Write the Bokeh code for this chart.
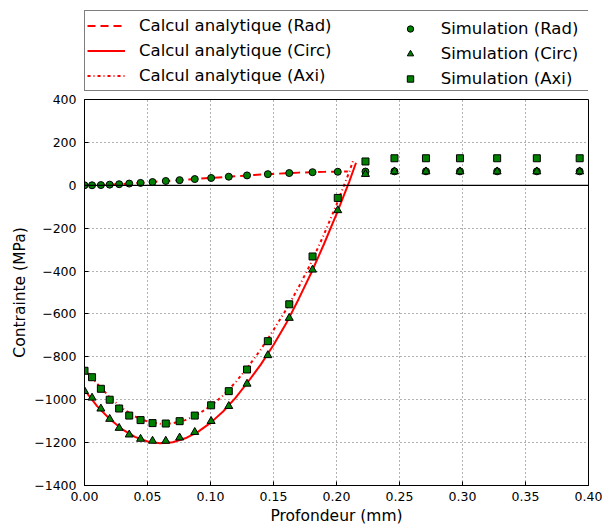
from bokeh.plotting import figure
from bokeh.layouts import column
from bokeh.models import (Legend, LegendItem, Span, SingleIntervalTicker,
                          PrintfTickFormatter, CustomJSTickFormatter, Range1d)
from bokeh.embed import file_html
from bokeh.resources import INLINE

# ---- data ----
depth_sim = [0.0, 0.006, 0.013, 0.020, 0.0275, 0.0355, 0.0445, 0.054, 0.0645,
             0.0755, 0.0875, 0.1005, 0.1145, 0.129, 0.1455, 0.1625, 0.181,
             0.201, 0.223, 0.246, 0.271, 0.298, 0.3275, 0.359, 0.393]
rad_sim = [0, 0, 1, 3, 5, 8, 11, 15, 20, 24, 29, 34, 40, 46, 52, 57, 61, 63,
           64, 65, 65, 65, 65, 65, 65]
circ_sim = [-960, -991, -1042, -1090, -1132, -1163, -1183, -1192, -1192,
            -1177, -1151, -1100, -1030, -926, -793, -619, -394, -117, 52,
            64, 64, 64, 64, 64, 64]
axi_sim = [-865, -895, -949, -1000, -1041, -1074, -1095, -1109, -1111,
           -1100, -1074, -1026, -960, -859, -727, -555, -332, -59, 111,
           126, 126, 126, 126, 126, 126]

depth_rad_ana = [0.0, 0.01, 0.02, 0.03, 0.04, 0.05, 0.06, 0.07, 0.08, 0.09,
                 0.10, 0.11, 0.12, 0.13, 0.14, 0.15, 0.16, 0.17, 0.18, 0.19,
                 0.20, 0.209]
rad_ana = [0, 1.5, 3.5, 6, 10, 14, 18, 22, 26, 30, 34, 38, 42, 46, 50, 53,
           56, 59, 61, 62.5, 63.5, 64]

depth_circ_ana = [0.0, 0.01, 0.02, 0.03, 0.04, 0.05, 0.06, 0.07, 0.08, 0.09,
                  0.10, 0.11, 0.12, 0.13, 0.14, 0.15, 0.16, 0.17, 0.18, 0.19,
                  0.20, 0.21, 0.2155]
circ_ana = [-955, -1030, -1090, -1138, -1173, -1195, -1203, -1198, -1180,
            -1150, -1108, -1055, -990, -915, -835, -745, -645, -530, -408,
            -275, -135, 15, 105]

depth_axi_ana = [0.0, 0.01, 0.02, 0.03, 0.04, 0.05, 0.06, 0.07, 0.08, 0.09,
                 0.10, 0.11, 0.12, 0.13, 0.14, 0.15, 0.16, 0.17, 0.18, 0.19,
                 0.20, 0.21, 0.2135]
axi_ana = [-855, -925, -988, -1040, -1078, -1102, -1112, -1110, -1095,
           -1068, -1030, -980, -918, -845, -765, -675, -580, -475, -360,
           -230, -90, 60, 120]

labels_ana = ["Calcul analytique (Rad)", "Calcul analytique (Circ)",
              "Calcul analytique (Axi)"]
labels_sim = ["Simulation (Rad)", "Simulation (Circ)", "Simulation (Axi)"]
x_label = "Profondeur (mm)"
y_label = "Contrainte (MPa)"

FONT = "DejaVu Sans"
RED = "#ff0000"
GREEN = "#008000"
line_styles = [dict(line_dash="8 5"), dict(line_dash="solid"),
               dict(line_dash="3 3 1 3")]
marker_styles = [dict(marker="circle", size=7), dict(marker="triangle", size=8),
                 dict(marker="square", size=7)]

ana_x = [depth_rad_ana, depth_circ_ana, depth_axi_ana]
ana_y = [rad_ana, circ_ana, axi_ana]
sim_y = [rad_sim, circ_sim, axi_sim]

# ---------------- main plot ----------------
p = figure(width=603, height=436,
           x_range=Range1d(0, 0.4), y_range=Range1d(-1400, 400),
           output_backend="svg", toolbar_location=None,
           min_border_left=84, min_border_right=15, min_border_top=8,
           min_border_bottom=38)

p.outline_line_color = "black"
p.outline_line_width = 1
p.outline_line_alpha = 1

for ax in (p.xaxis[0], p.yaxis[0]):
    ax.axis_line_color = "black"
    ax.major_tick_line_color = "black"
    ax.major_tick_in = 4
    ax.major_tick_out = 0
    ax.minor_tick_line_color = None
    ax.major_label_text_font = FONT
    ax.major_label_text_font_size = "12.5px"
    ax.major_label_text_color = "black"
    ax.axis_label_text_font = FONT
    ax.axis_label_text_font_size = "15.5px"
    ax.axis_label_text_font_style = "normal"
    ax.axis_label_text_color = "black"

p.xaxis.ticker = SingleIntervalTicker(interval=0.05)
p.yaxis.ticker = SingleIntervalTicker(interval=200)
p.xaxis.formatter = PrintfTickFormatter(format="%.2f")
p.yaxis.formatter = CustomJSTickFormatter(
    code="return tick < 0 ? '\u2212' + Math.abs(tick) : String(tick);")
p.xaxis.axis_label = x_label
p.yaxis.axis_label = y_label
p.xaxis.major_label_standoff = 2
p.xaxis.axis_label_standoff = 3
p.yaxis.major_label_standoff = 4
p.yaxis.axis_label_standoff = 2

for g in (p.xgrid[0], p.ygrid[0]):
    g.grid_line_color = "black"
    g.grid_line_alpha = 0.6
    g.grid_line_width = 1
    g.grid_line_dash = "1 3"

p.add_layout(Span(location=0, dimension="width", line_color="black",
                  line_width=1.2))

for xs, ys, st in zip(ana_x, ana_y, line_styles):
    p.line(xs, ys, line_color=RED, line_width=2, **st)

for ys, st in zip(sim_y, marker_styles):
    p.scatter(depth_sim, ys, fill_color=GREEN, line_color="black",
              line_width=1, **st)

# ---------------- legend panel (above the plot) ----------------
leg_fig = figure(width=603, height=91, x_range=Range1d(0, 0.4),
                 y_range=Range1d(-1400, 400), x_axis_type=None,
                 y_axis_type=None, output_backend="svg",
                 toolbar_location=None, min_border_left=84,
                 min_border_right=15, min_border_top=0, min_border_bottom=0)
leg_fig.outline_line_color = None
leg_fig.xgrid.visible = False
leg_fig.ygrid.visible = False

ana_items = []
for xs, ys, lab, st in zip(ana_x, ana_y, labels_ana, line_styles):
    r = leg_fig.line(xs, ys, line_color=RED, line_width=2, visible=False,
                     **st)
    ana_items.append(LegendItem(label=lab, renderers=[r]))
sim_items = []
for ys, lab, st in zip(sim_y, labels_sim, marker_styles):
    r = leg_fig.scatter(depth_sim, ys, fill_color=GREEN, line_color="black",
                        line_width=1, visible=False, **st)
    sim_items.append(LegendItem(label=lab, renderers=[r]))

common = dict(padding=2, spacing=0, margin=0, glyph_height=25,
              label_height=25, label_text_font=FONT,
              label_text_font_size="16.5px", label_text_color="black",
              click_policy="none")
leg1 = Legend(items=ana_items, location=(0, 0), glyph_width=38,
              label_standoff=14, label_width=447, border_line_color="black",
              border_line_width=1, background_fill_color="white",
              background_fill_alpha=1, **common)
leg2 = Legend(items=sim_items, location=(317.7, 0), glyph_width=16,
              label_standoff=23, border_line_color=None,
              background_fill_alpha=0, **common)
leg_fig.add_layout(leg1)
leg_fig.add_layout(leg2)

layout = column(leg_fig, p, spacing=0)

with open("out.html", "w", encoding="utf-8") as f:
    f.write(file_html(layout, INLINE))
